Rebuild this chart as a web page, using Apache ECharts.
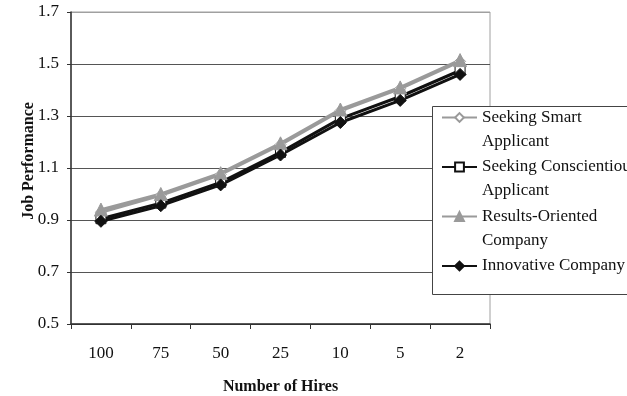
<!DOCTYPE html>
<html>
<head>
<meta charset="utf-8">
<script src="https://cdn.jsdelivr.net/npm/echarts@6/dist/echarts.min.js"></script>
<style>
  html, body { margin: 0; padding: 0; background: #fff; }
  #chart { width: 627px; height: 396px; }
</style>
</head>
<body>
<div id="chart"></div>
<script>
// Number of hires on the x axis, job performance on the y axis
const categories = ['100', '75', '50', '25', '10', '5', '2'];
const smartApplicant = [0.93, 0.995, 1.075, 1.19, 1.32, 1.405, 1.51];
const conscientiousApplicant = [0.905, 0.965, 1.045, 1.16, 1.29, 1.375, 1.475];
const resultsOriented = [0.94, 1.0, 1.08, 1.195, 1.325, 1.41, 1.515];
const innovative = [0.895, 0.955, 1.035, 1.15, 1.275, 1.36, 1.46];

const seriesNames = [
  'Seeking Smart Applicant',
  'Seeking Conscientious Applicant',
  'Results-Oriented Company',
  'Innovative Company'
];
// Legend labels, wrapped onto two lines where needed
const legendLabels = {
  'Seeking Smart Applicant': ['Seeking Smart', 'Applicant'],
  'Seeking Conscientious Applicant': ['Seeking Conscientious', 'Applicant'],
  'Results-Oriented Company': ['Results-Oriented', 'Company'],
  'Innovative Company': ['Innovative Company', '']
};

const serif = '"Liberation Serif", "Times New Roman", serif';
const GRAY = '#9a9a9a';
const BLACK = '#111';

const chart = echarts.init(document.getElementById('chart'), null, { renderer: 'canvas' });

chart.setOption({
  animation: false,
  backgroundColor: '#fff',
  textStyle: { fontFamily: serif },
  grid: {
    left: 71, right: 137, top: 12, bottom: 72,
    outerBoundsMode: 'none',
    containLabel: false,
    show: true, borderColor: '#a0a0a0', borderWidth: 1
  },
  graphic: [{
    type: 'rect',
    z: 3,
    shape: { x: 432.5, y: 106.5, width: 300, height: 188 },
    style: { fill: '#fff', stroke: '#444', lineWidth: 1 }
  }],
  legend: {
    orient: 'vertical',
    left: 441,
    top: 81.5,
    padding: 0,
    z: 5,
    itemWidth: 35,
    itemHeight: 11,
    itemGap: -22.5,
    selectedMode: false,
    data: seriesNames,
    formatter: function (name) {
      const l = legendLabels[name];
      return '\n' + l[0] + '\n' + l[1];
    },
    textStyle: { fontFamily: serif, fontSize: 17, color: '#111', lineHeight: 24 }
  },
  xAxis: {
    type: 'category',
    data: categories,
    boundaryGap: true,
    name: 'Number of Hires',
    nameLocation: 'middle',
    nameGap: 55,
    nameTextStyle: { fontFamily: serif, fontSize: 16, fontWeight: 'bold', color: '#111' },
    axisLine: { lineStyle: { color: '#333', width: 1.5 } },
    axisTick: { show: true, length: 5, lineStyle: { color: '#333' } },
    axisLabel: { fontFamily: serif, fontSize: 17, color: '#111', margin: 21 },
    splitLine: { show: false }
  },
  yAxis: {
    type: 'value',
    min: 0.5, max: 1.7, interval: 0.2,
    name: 'Job Performance',
    nameLocation: 'middle',
    nameGap: 34,
    nameRotate: 90,
    nameMoveOverlap: false,
    nameTextStyle: { fontFamily: serif, fontSize: 16, fontWeight: 'bold', color: '#111', padding: [0, 0, 0, 14] },
    axisLine: { show: true, lineStyle: { color: '#333', width: 1.5 } },
    axisTick: { show: true, length: 4, lineStyle: { color: '#333' } },
    axisLabel: {
      fontFamily: serif, fontSize: 17, color: '#111', margin: 12,
      formatter: function (v) { return v.toFixed(1); }
    },
    splitLine: {
      show: true,
      lineStyle: { color: ['#333', '#555', '#555', '#555', '#555', '#555', '#a0a0a0'], width: 1 }
    }
  },
  series: [
    {
      name: seriesNames[0], type: 'line', data: smartApplicant,
      symbol: 'diamond', symbolSize: 11,
      lineStyle: { color: GRAY, width: 3 },
      itemStyle: { color: '#fff', borderColor: GRAY, borderWidth: 1 }
    },
    {
      name: seriesNames[1], type: 'line', data: conscientiousApplicant,
      symbol: 'rect', symbolSize: 10,
      lineStyle: { color: BLACK, width: 3 },
      itemStyle: { color: '#fff', borderColor: BLACK, borderWidth: 1 }
    },
    {
      name: seriesNames[2], type: 'line', data: resultsOriented,
      symbol: 'triangle', symbolSize: 13,
      lineStyle: { color: GRAY, width: 3 },
      itemStyle: { color: GRAY, borderColor: GRAY, borderWidth: 1 }
    },
    {
      name: seriesNames[3], type: 'line', data: innovative,
      symbol: 'diamond', symbolSize: 12,
      lineStyle: { color: BLACK, width: 3 },
      itemStyle: { color: BLACK, borderColor: BLACK, borderWidth: 1 }
    }
  ]
});
</script>
</body>
</html>
